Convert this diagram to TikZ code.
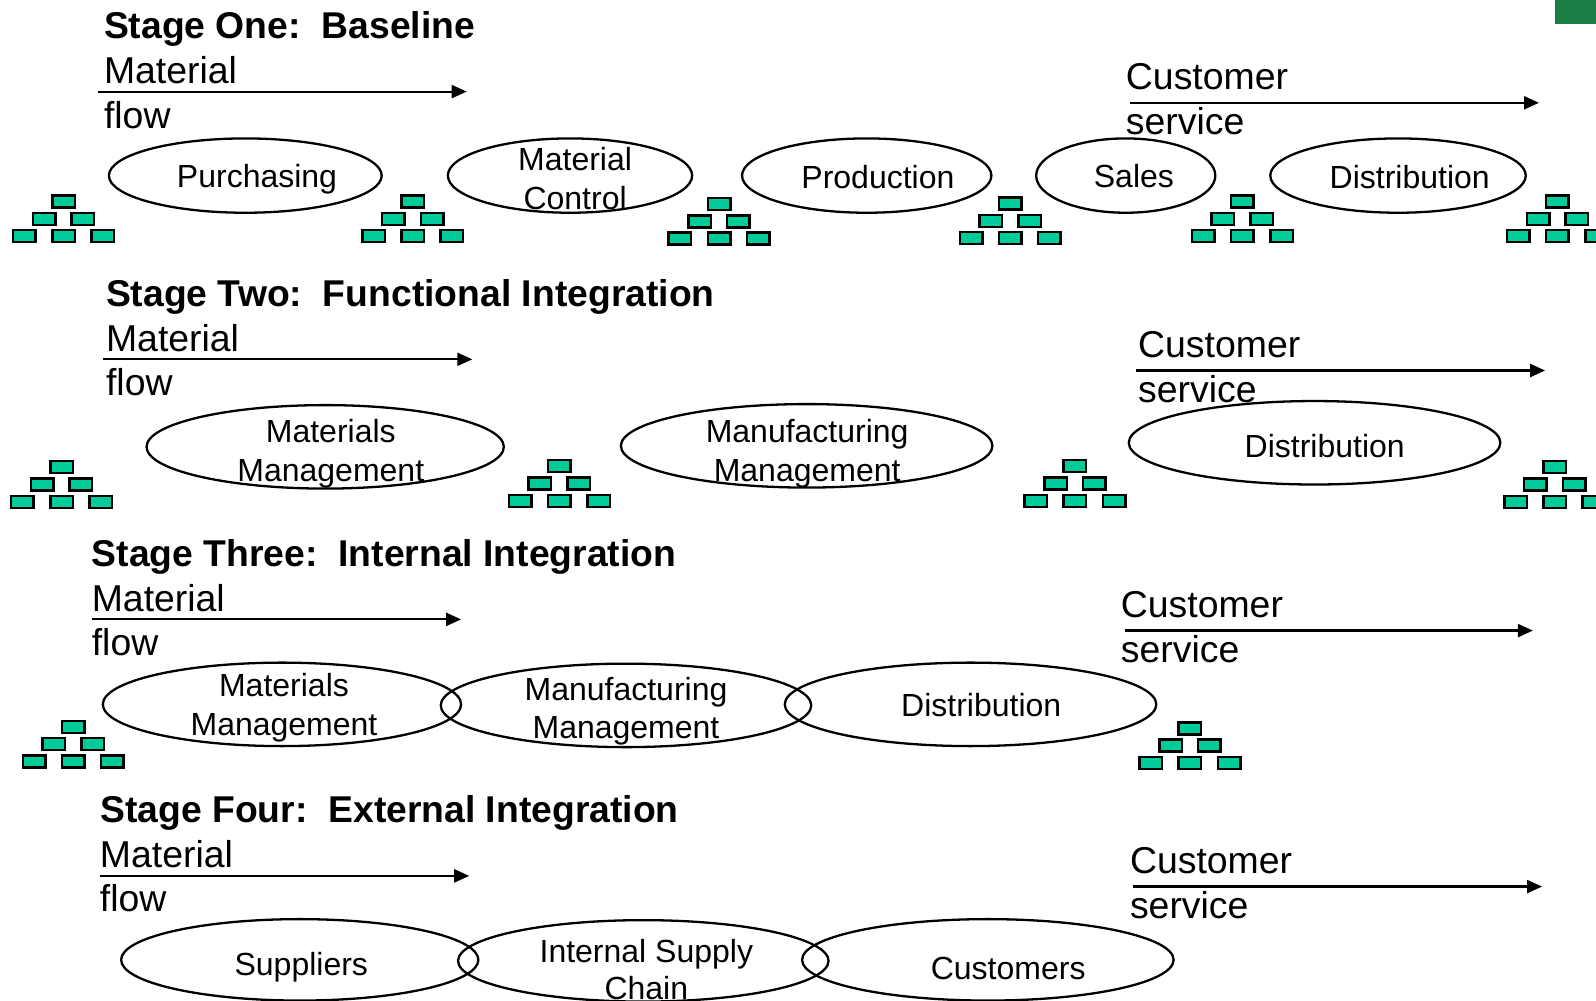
\documentclass[tikz,border=0pt]{standalone}
\usepackage{fontspec}
\setmainfont{Liberation Sans}
\usetikzlibrary{shapes.geometric,arrows.meta}
\definecolor{brick}{HTML}{00CC99}
\definecolor{cornergreen}{HTML}{1B7F45}
\newcommand{\fs}[1]{\fontsize{#1}{#1}\selectfont}
\tikzset{
  x=1.0179pt,y=-1.0179pt,
  oval/.style={draw,ellipse,line width=2.3pt,inner sep=0,outer sep=0},
  oval label/.style={font=\fs{32},align=center,inner sep=0},
  stage title/.style={font=\fs{37.3}\bfseries,anchor=base west,inner sep=0},
  flow label/.style={font=\fs{37.4},anchor=base west,inner sep=0},
  flow/.style={line width=2.2pt,-{Triangle[length=15pt,width=13pt]}},
  brickbox/.style={draw,fill=brick,line width=2.5pt,minimum width=22.5pt,minimum height=12pt,inner sep=0,outer sep=0}
}
% \pyramid{name}{cx}{top y}
\newcommand{\pyramid}[3]{%
  \node[brickbox] (#1a) at (#2,#3) {};
  \node[brickbox] (#1b) at (#2-19,#3+17) {};
  \node[brickbox] (#1c) at (#2+19,#3+17) {};
  \node[brickbox] (#1d) at (#2-38.5,#3+34) {};
  \node[brickbox] (#1e) at (#2,#3+34) {};
  \node[brickbox] (#1f) at (#2+38.5,#3+34) {};
}
% \ovalnode{name}{x left}{x right}{y top}{y bottom}
\newcommand{\ovalnode}[5]{%
  \pgfmathsetmacro{\ovw}{((#3)-(#2))*1.0179}%
  \pgfmathsetmacro{\ovh}{((#5)-(#4))*1.0179}%
  \node[oval,minimum width=\ovw pt,minimum height=\ovh pt] (#1) at ({((#2)+(#3))/2},{((#4)+(#5))/2}) {};
}
% \flowarrow{name}{x0}{x1}{y}
\newcommand{\flowarrow}[4]{%
  \coordinate (#1s) at (#2,#4);
  \coordinate (#1t) at (#3,#4);
  \draw[flow] (#1s) -- (#1t);
}
\begin{document}
\begin{tikzpicture}
\useasboundingbox (0,0) rectangle (1568,983);
\clip (0,0) rectangle (1568,983);
\fill[cornergreen] (1528,0) rectangle (1568,24);

% Stage one
\node[stage title] (t1) at (102,37.5) {Stage One:\ \ Baseline};
\node[flow label] (m1a) at (102,82) {Material};
\node[flow label] (m1b) at (102,126) {flow};
\node[flow label] (c1a) at (1106,88) {Customer};
\node[flow label] (c1b) at (1106,132) {service};
\flowarrow{ma1}{96}{458.5}{90}
\flowarrow{ca1}{1110}{1512}{101}
\ovalnode{o11}{107}{375}{136}{209}
\ovalnode{o12}{440}{680}{136}{209}
\ovalnode{o13}{729}{974}{136}{209}
\ovalnode{o14}{1018}{1194}{136}{209}
\ovalnode{o15}{1248}{1499}{136}{209}
\node[oval label] (l11) at (252.5,176) {Purchasing};
\node[oval label] (l12a) at (565,156) {Material};
\node[oval label] (l12b) at (565,195) {Control};
\node[oval label] (l13) at (862.5,174) {Production};
\node[oval label] (l14) at (1114,173) {Sales};
\node[oval label] (l15) at (1385,174) {Distribution};
\pyramid{p11}{62.5}{198}
\pyramid{p12}{405.5}{198}
\pyramid{p13}{706.5}{200.5}
\pyramid{p14}{992.5}{200}
\pyramid{p15}{1220.5}{198}
\pyramid{p16}{1530}{198}

% Stage two
\node[stage title] (t2) at (104,301) {Stage Two:\ \ Functional Integration};
\node[flow label] (m2a) at (104,345) {Material};
\node[flow label] (m2b) at (104,388.5) {flow};
\node[flow label] (c2a) at (1118,351) {Customer};
\node[flow label] (c2b) at (1118,395) {service};
\flowarrow{ma2}{101}{464}{353}
\flowarrow{ca2}{1116}{1518}{364}
\ovalnode{o21}{144}{495}{398}{480}
\ovalnode{o22}{610}{975}{397}{479}
\ovalnode{o23}{1109}{1474}{394}{476}
\node[oval label] (l21a) at (325,423) {Materials};
\node[oval label] (l21b) at (325,465) {Management};
\node[oval label] (l22a) at (793,427) {Manufacturing};
\node[oval label] (l22b) at (793,465) {Management};
\node[oval label] (l23) at (1301.5,438) {Distribution};
\pyramid{p21}{60.5}{459}
\pyramid{p22}{549.5}{458}
\pyramid{p23}{1056}{458}
\pyramid{p24}{1527.5}{459}

% Stage three
\node[stage title] (t3) at (90,556.5) {Stage Three:\ \ Internal Integration};
\node[flow label] (m3a) at (90,600.5) {Material};
\node[flow label] (m3b) at (90,643.5) {flow};
\node[flow label] (c3a) at (1101,607) {Customer};
\node[flow label] (c3b) at (1101,651) {service};
\flowarrow{ma3}{90}{453}{608.5}
\flowarrow{ca3}{1105}{1506}{619.5}
\ovalnode{o31}{101}{453}{651}{733}
\ovalnode{o32}{433}{797}{652}{734}
\ovalnode{o33}{771}{1136}{651}{733}
\node[oval label] (l31a) at (279,673) {Materials};
\node[oval label] (l31b) at (279,715) {Management};
\node[oval label] (l32a) at (615,680) {Manufacturing};
\node[oval label] (l32b) at (615,718) {Management};
\node[oval label] (l33) at (964,693) {Distribution};
\pyramid{p31}{72}{714}
\pyramid{p32}{1169}{715.5}

% Stage four
\node[stage title] (t4) at (98.5,808.5) {Stage Four:\ \ External Integration};
\node[flow label] (m4a) at (98,852) {Material};
\node[flow label] (m4b) at (98,895.5) {flow};
\node[flow label] (c4a) at (1110,858) {Customer};
\node[flow label] (c4b) at (1110,902) {service};
\flowarrow{ma4}{98}{461}{860.5}
\flowarrow{ca4}{1113}{1515}{871}
\ovalnode{o41}{119}{470}{903}{983}
\ovalnode{o42}{450}{814}{904}{984}
\ovalnode{o43}{788}{1153}{903}{983}
\node[oval label] (l41) at (296,950) {Suppliers};
\node[oval label] (l42a) at (635,937) {Internal Supply};
\node[oval label] (l42b) at (635,970.5) {Chain};
\node[oval label] (l43) at (990.5,951) {Customers};
\end{tikzpicture}
\end{document}
